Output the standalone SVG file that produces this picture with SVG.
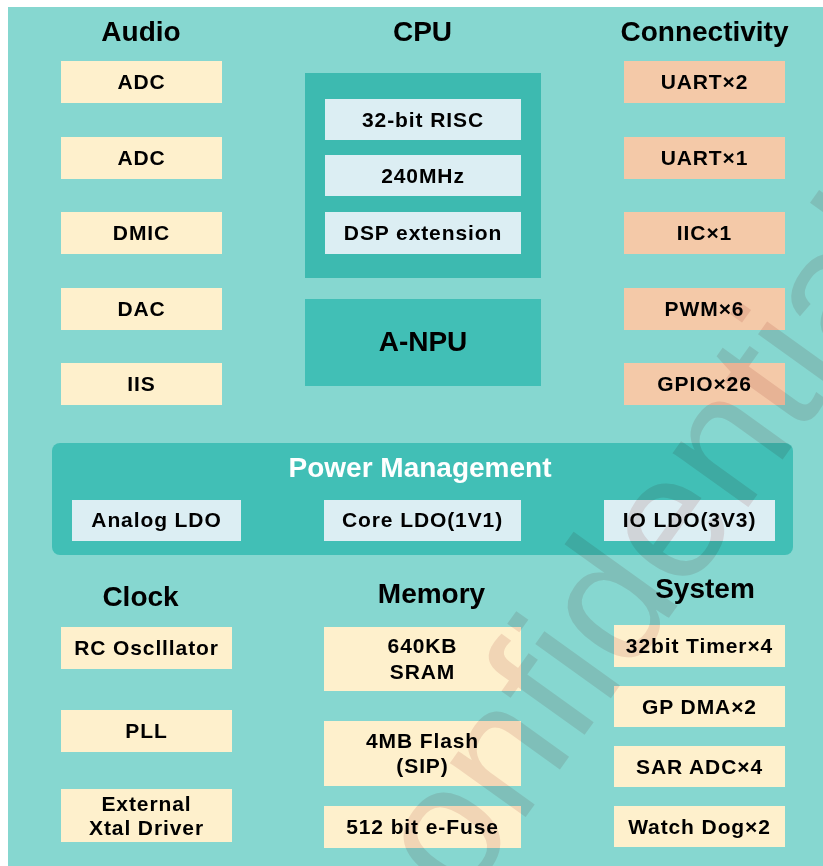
<svg xmlns="http://www.w3.org/2000/svg" width="823" height="866" viewBox="0 0 823 866">
<style>
text{font-family:"Liberation Sans",Arial,sans-serif;font-weight:bold;fill:#000;text-anchor:middle}
.title{font-size:28px}
.lbl{font-size:21px;letter-spacing:0.9px}
.cream{fill:#FEF0CC}
.salmon{fill:#F4C9A8}
.pale{fill:#DCEEF3}
.dark{fill:#3DBAB0}
.mid{fill:#41BFB6}
.wm{font-family:"Liberation Sans",Arial,sans-serif;font-weight:normal;font-size:176px;fill:#F2E3E3;text-anchor:start;mix-blend-mode:multiply}
</style>
<rect x="0" y="0" width="823" height="866" fill="#FFFFFF"/>
<rect x="8" y="7" width="815" height="859" fill="#86D7D0"/>

<g id="audio">
<text class="title" x="141" y="41">Audio</text>
<rect class="cream" x="61" y="61" width="161" height="42"/><text class="lbl" x="141.5" y="89">ADC</text>
<rect class="cream" x="61" y="137" width="161" height="42"/><text class="lbl" x="141.5" y="165">ADC</text>
<rect class="cream" x="61" y="212" width="161" height="42"/><text class="lbl" x="141.5" y="240">DMIC</text>
<rect class="cream" x="61" y="288" width="161" height="42"/><text class="lbl" x="141.5" y="316">DAC</text>
<rect class="cream" x="61" y="363" width="161" height="42"/><text class="lbl" x="141.5" y="391">IIS</text>
</g>

<g id="cpu">
<text class="title" x="422.5" y="41">CPU</text>
<rect class="dark" x="305" y="73" width="236" height="205"/>
<rect class="pale" x="325" y="99" width="196" height="41"/><text class="lbl" x="423" y="127">32-bit RISC</text>
<rect class="pale" x="325" y="155" width="196" height="41"/><text class="lbl" x="423" y="183">240MHz</text>
<rect class="pale" x="325" y="212" width="196" height="42"/><text class="lbl" x="423" y="240">DSP extension</text>
</g>

<g id="anpu">
<rect class="mid" x="305" y="299" width="236" height="87"/>
<text class="title" x="423" y="351">A-NPU</text>
</g>

<g id="connectivity">
<text class="title" x="704.5" y="41">Connectivity</text>
<rect class="salmon" x="624" y="61" width="161" height="42"/><text class="lbl" x="704.5" y="89">UART×2</text>
<rect class="salmon" x="624" y="137" width="161" height="42"/><text class="lbl" x="704.5" y="165">UART×1</text>
<rect class="salmon" x="624" y="212" width="161" height="42"/><text class="lbl" x="704.5" y="240">IIC×1</text>
<rect class="salmon" x="624" y="288" width="161" height="42"/><text class="lbl" x="704.5" y="316">PWM×6</text>
<rect class="salmon" x="624" y="363" width="161" height="42"/><text class="lbl" x="704.5" y="391">GPIO×26</text>
</g>

<g id="power">
<rect class="mid" x="52" y="443" width="741" height="112" rx="8"/>
<text class="title" x="420" y="477" style="fill:#FFFFFF">Power Management</text>
<rect class="pale" x="72" y="500" width="169" height="41"/><text class="lbl" x="156.5" y="527">Analog LDO</text>
<rect class="pale" x="324" y="500" width="197" height="41"/><text class="lbl" x="422.5" y="527">Core LDO(1V1)</text>
<rect class="pale" x="604" y="500" width="171" height="41"/><text class="lbl" x="689.5" y="527">IO LDO(3V3)</text>
</g>

<g id="clock">
<text class="title" x="140.5" y="606">Clock</text>
<rect class="cream" x="61" y="627" width="171" height="42"/><text class="lbl" x="146.5" y="655">RC Osclllator</text>
<rect class="cream" x="61" y="710" width="171" height="42"/><text class="lbl" x="146.5" y="738">PLL</text>
<rect class="cream" x="61" y="789" width="171" height="53"/><text class="lbl" x="146.5" y="811">External</text><text class="lbl" x="146.5" y="835">Xtal Driver</text>
</g>

<g id="memory">
<text class="title" x="431.5" y="603">Memory</text>
<rect class="cream" x="324" y="627" width="197" height="64"/><text class="lbl" x="422.5" y="653">640KB</text><text class="lbl" x="422.5" y="679">SRAM</text>
<rect class="cream" x="324" y="721" width="197" height="65"/><text class="lbl" x="422.5" y="748">4MB Flash</text><text class="lbl" x="422.5" y="773">(SIP)</text>
<rect class="cream" x="324" y="806" width="197" height="42"/><text class="lbl" x="422.5" y="834">512 bit e-Fuse</text>
</g>

<g id="system">
<text class="title" x="705" y="598">System</text>
<rect class="cream" x="614" y="625" width="171" height="42"/><text class="lbl" x="699.5" y="653">32bit Timer×4</text>
<rect class="cream" x="614" y="686" width="171" height="41"/><text class="lbl" x="699.5" y="714">GP DMA×2</text>
<rect class="cream" x="614" y="746" width="171" height="41"/><text class="lbl" x="699.5" y="774">SAR ADC×4</text>
<rect class="cream" x="614" y="806" width="171" height="41"/><text class="lbl" x="699.5" y="834">Watch Dog×2</text>
</g>

<g id="connectors"></g>

<g id="watermark">
<text class="wm" transform="translate(410,978) rotate(-54.3)">confidential</text>
</g>
</svg>
